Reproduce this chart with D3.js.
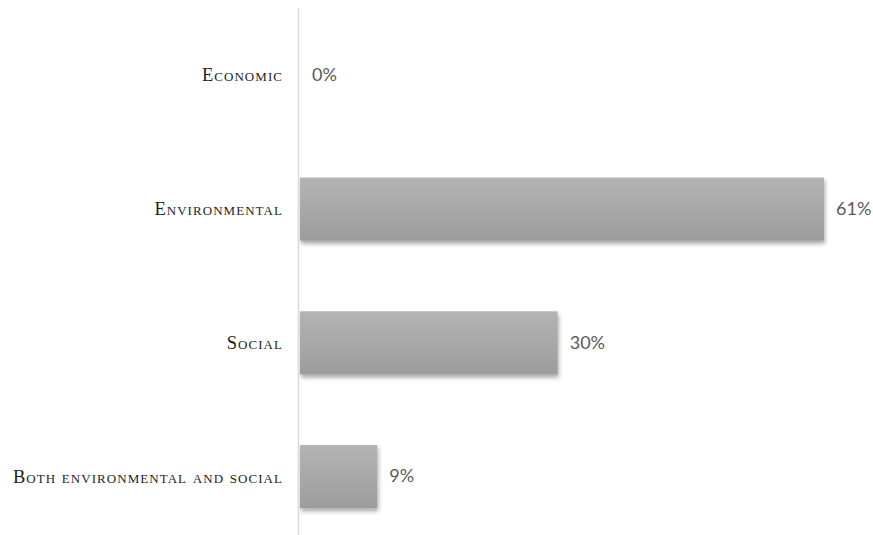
<!DOCTYPE html>
<html>
<head>
<meta charset="utf-8">
<script src="https://cdn.jsdelivr.net/npm/d3@7"></script>
<style>
  html, body { margin: 0; padding: 0; background: #ffffff; }
  svg { display: block; }
  .cat { font-family: "Liberation Serif", "DejaVu Serif", serif; font-variant: small-caps; font-size: 18.5px; letter-spacing: 1.05px; fill: #1e1e1e; }
  .val { font-family: "Lato", "Open Sans", sans-serif; font-size: 18px; fill: #595959; }
</style>
</head>
<body>
<svg id="chart" width="873" height="535"></svg>
<script>
// Share of responses by dimension
const categories = ["Economic", "Environmental", "Social", "Both environmental and social"];
const shares = [0, 61, 30, 9];
const valueLabels = ["0%", "61%", "30%", "9%"];

const width = 873, height = 535;
const svg = d3.select("#chart");

const x = d3.scaleLinear().domain([0, 61]).range([300, 824]);
const y = d3.scaleBand().domain(categories).range([8, 543]).paddingInner(0.52).paddingOuter(0.26);

const defs = svg.append("defs");
const grad = defs.append("linearGradient")
  .attr("id", "barFill").attr("x1", 0).attr("y1", 0).attr("x2", 0).attr("y2", 1);
grad.append("stop").attr("offset", "0%").attr("stop-color", "#b4b4b4");
grad.append("stop").attr("offset", "100%").attr("stop-color", "#9c9c9c");

const shadow = defs.append("filter").attr("id", "barShadow")
  .attr("x", "-10%").attr("y", "-20%").attr("width", "130%").attr("height", "160%");
shadow.append("feDropShadow")
  .attr("dx", 1).attr("dy", 3).attr("stdDeviation", 2)
  .attr("flood-color", "#000").attr("flood-opacity", 0.35);

// bars
svg.append("g").selectAll("rect")
  .data(categories)
  .join("rect")
  .attr("x", x(0))
  .attr("y", d => y(d) + 1)
  .attr("width", (d, i) => x(shares[i]) - x(0))
  .attr("height", y.bandwidth() - 1)
  .attr("fill", "url(#barFill)")
  .attr("filter", "url(#barShadow)");

// vertical category axis line
svg.append("line")
  .attr("x1", 298.5).attr("x2", 298.5)
  .attr("y1", 8).attr("y2", height)
  .attr("stroke", "#d9d9d9").attr("stroke-width", 1.5);

// category labels
svg.append("g").selectAll("text")
  .data(categories)
  .join("text")
  .attr("class", "cat")
  .attr("x", 283)
  .attr("y", d => y(d) + y.bandwidth() / 2)
  .attr("dy", "0.35em")
  .attr("text-anchor", "end")
  .text(d => d);

// value labels
svg.append("g").selectAll("text")
  .data(categories)
  .join("text")
  .attr("class", "val")
  .attr("x", (d, i) => x(shares[i]) + 12)
  .attr("y", d => y(d) + y.bandwidth() / 2)
  .attr("dy", "0.35em")
  .text((d, i) => valueLabels[i]);
</script>
</body>
</html>
